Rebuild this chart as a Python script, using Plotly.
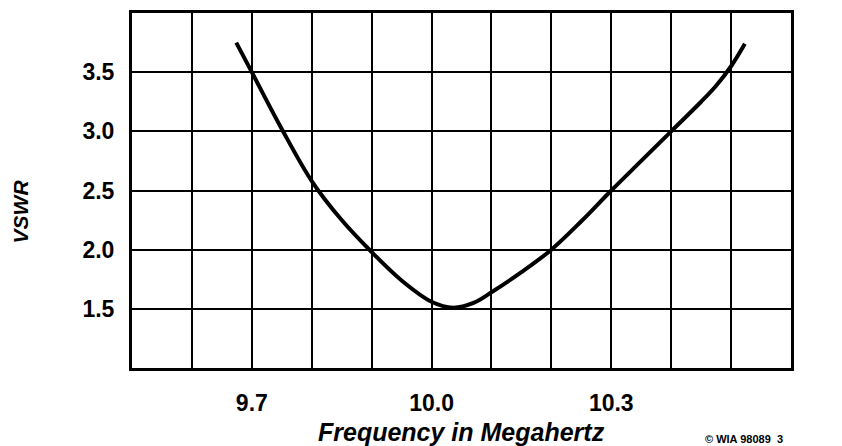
import plotly.graph_objects as go

# VSWR curve
freq_mhz = [9.674, 9.70, 9.75, 9.80, 9.85, 9.90, 9.95, 10.00, 10.036, 10.07,
            10.10, 10.15, 10.20, 10.25, 10.30, 10.35, 10.40, 10.45, 10.475,
            10.50, 10.523]
vswr = [3.75, 3.50, 3.02, 2.58, 2.25, 1.98, 1.74, 1.56, 1.51, 1.55,
        1.64, 1.81, 2.00, 2.24, 2.50, 2.75, 3.00, 3.25, 3.385,
        3.55, 3.74]

x_grid = [9.5, 9.6, 9.7, 9.8, 9.9, 10.0, 10.1, 10.2, 10.3, 10.4, 10.5, 10.6]
x_labels = ["", "", "9.7", "", "", "10.0", "", "", "10.3", "", "", ""]
y_grid = [1.0, 1.5, 2.0, 2.5, 3.0, 3.5, 4.0]
y_labels = ["", "1.5", "2.0", "2.5", "3.0", "3.5", ""]

font_main = "Liberation Sans, Arial, sans-serif"

fig = go.Figure()
fig.add_trace(go.Scatter(
    x=freq_mhz, y=vswr, mode="lines",
    line=dict(color="black", width=4, shape="spline", smoothing=1.0),
    hoverinfo="skip", showlegend=False,
))

fig.update_xaxes(
    range=[9.5, 10.6], tickmode="array", tickvals=x_grid, ticktext=x_labels,
    showgrid=True, gridcolor="black", gridwidth=2,
    showline=True, linecolor="black", linewidth=3, mirror=True,
    ticks="", ticklabelstandoff=12, zeroline=False,
    tickfont=dict(family=font_main, size=23, color="black", weight="bold"),
)
fig.update_yaxes(
    range=[1.0, 4.0], tickmode="array", tickvals=y_grid, ticktext=y_labels,
    showgrid=True, gridcolor="black", gridwidth=2,
    showline=True, linecolor="black", linewidth=3, mirror=True,
    ticks="", ticklabelstandoff=10, zeroline=False,
    tickfont=dict(family=font_main, size=23, color="black", weight="bold"),
)

fig.add_annotation(
    text="<b><i>Frequency in Megahertz</i></b>", xref="paper", yref="paper",
    x=0.5, y=-0.179, xanchor="center", yanchor="middle", showarrow=False,
    font=dict(family=font_main, size=25, color="black"),
)
fig.add_annotation(
    text="<b><i>VSWR</i></b>", xref="paper", yref="paper", textangle=-90,
    x=-0.169, y=0.44, xanchor="center", yanchor="middle", showarrow=False,
    font=dict(family=font_main, size=21, color="black"),
)
fig.add_annotation(
    text="<b>© WIA 98089  3</b>", xref="paper", yref="paper",
    x=0.928, y=-0.201, xanchor="center", yanchor="middle", showarrow=False,
    font=dict(family=font_main, size=11, color="black"),
)

# the page body has an 8px margin, so the figure is sized to fit inside it
fig.update_layout(
    width=834, height=438,
    margin=dict(l=124, r=51, t=2, b=78),
    plot_bgcolor="white", paper_bgcolor="white",
)

fig.write_html("out.html")
